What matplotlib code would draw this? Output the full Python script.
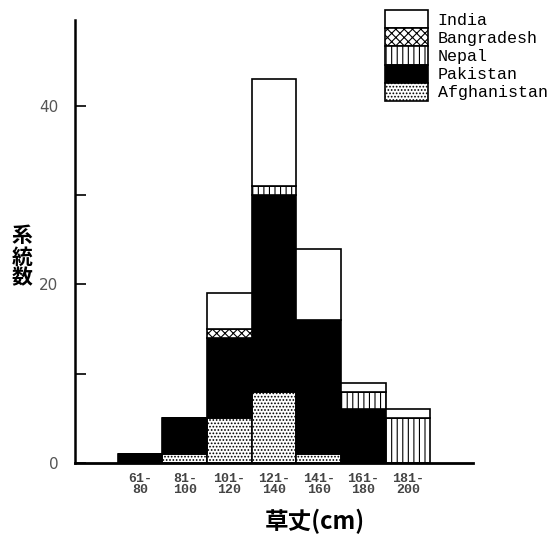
import numpy as np
import matplotlib
matplotlib.use("Agg")
import matplotlib.pyplot as plt

plt.rcParams['hatch.linewidth'] = 0.8

# -----------------------
# Data
# -----------------------

classes = ["61-\n80", "81-\n100", "101-\n120", "121-\n140",
           "141-\n160", "161-\n180", "181-\n200"]

afghanistan = [0, 1, 5, 8, 1, 0, 0]
pakistan = [1, 4, 9, 22, 15, 6, 0]
nepal = [0, 0, 0, 1, 0, 2, 5]
bangladesh = [0, 0, 1, 0, 0, 0, 0]
india = [0, 0, 4, 12, 8, 1, 1]

series = [
    ("Afghanistan", afghanistan, "white", "....."),
    ("Pakistan", pakistan, "black", None),
    ("Nepal", nepal, "white", "|||"),
    ("Bangradesh", bangladesh, "white", "xxxx"),
    ("India", india, "white", None),
]

# -----------------------
# Plot
# -----------------------

fig = plt.figure(figsize=(5.55, 5.41), dpi=100)
ax = fig.add_axes([75 / 555, 78 / 541, 398 / 555, 443 / 541])

x = np.arange(len(classes))
bottom = np.zeros(len(classes))
handles = {}

for name, vals, fc, hatch in series:
    vals = np.array(vals, dtype=float)
    bars = ax.bar(x, vals, width=1.0, bottom=bottom, color=fc,
                  edgecolor="black", linewidth=1.2, hatch=hatch)
    handles[name] = bars
    bottom += vals

ax.set_xlim(-1.46, 7.46)
ax.set_ylim(0, 49.6)

ax.spines["top"].set_visible(False)
ax.spines["right"].set_visible(False)
ax.spines["left"].set_linewidth(1.8)
ax.spines["bottom"].set_linewidth(2.0)

ax.set_yticks([0, 10, 20, 30, 40])
ax.set_yticklabels(["0", "", "20", "", "40"])
ax.tick_params(axis="y", direction="in", length=8, width=1.2,
               labelsize=11, labelcolor="#555555", pad=12)

ax.set_xticks(x)
ax.set_xticklabels(classes, family="Liberation Mono", fontsize=9.5,
                   color="#444444", linespacing=0.95, weight="bold")
ax.tick_params(axis="x", length=0, pad=7)

fig.text(22 / 555, 1 - 257 / 541, "系\n統\n数", family="Noto Sans CJK JP",
         fontsize=15, weight="bold", ha="center", va="center",
         linespacing=1.0)
fig.text(315 / 555, 1 - 521 / 541, "草丈(cm)", family="Noto Sans CJK JP",
         fontsize=17, weight="bold", ha="center", va="center")

order = ["India", "Bangradesh", "Nepal", "Pakistan", "Afghanistan"]
leg = fig.legend([handles[n] for n in order], order,
                 loc="upper left", bbox_to_anchor=(385 / 555, 1 - 10 / 541),
                 frameon=False, borderpad=0, borderaxespad=0,
                 labelspacing=0, handlelength=2.6, handleheight=1.3,
                 handletextpad=0.55,
                 prop={"family": "Liberation Mono", "size": 12})

fig.savefig("out.png", dpi=100)
